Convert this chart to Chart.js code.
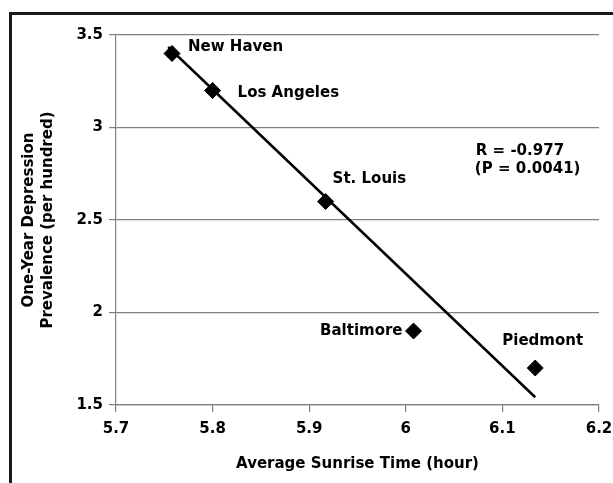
<!DOCTYPE html>
<html>
<head>
<meta charset="utf-8">
<script src="https://cdn.jsdelivr.net/npm/chart.js@4/dist/chart.umd.min.js"></script>
<style>
  html, body { margin: 0; padding: 0; background: #ffffff; }
  #wrap { width: 613px; height: 483px; }
</style>
</head>
<body>
<div id="wrap"><canvas id="c" width="613" height="483"></canvas></div>
<script>
// ---- data ----
const cities = ["New Haven", "Los Angeles", "St. Louis", "Baltimore", "Piedmont"];
const sunriseTime = [5.758, 5.80, 5.917, 6.008, 6.134];
const prevalence = [3.40, 3.20, 2.60, 1.90, 1.70];
const fitX = [5.754, 6.134];
const fitY = [3.435, 1.542];
const xTicks = [5.7, 5.8, 5.9, 6.0, 6.1, 6.2];
const yTicks = [1.5, 2, 2.5, 3, 3.5];
const statLines = ["R = -0.977", "(P = 0.0041)"];

const FONT = "'DejaVu Sans', 'Liberation Sans', Arial, sans-serif";

const points = cities.map((c, i) => ({ x: sunriseTime[i], y: prevalence[i] }));
const fitPoints = fitX.map((x, i) => ({ x: x, y: fitY[i] }));

// label offsets in pixels relative to each point (styling only)
const labelStyle = [
  { dx: 16, dy: -6, align: 'left' },
  { dx: 25, dy: 3, align: 'left' },
  { dx: 7, dy: -22, align: 'left' },
  { dx: -11, dy: 0, align: 'right' },
  { dx: -33, dy: -27, align: 'left' }
];

const decor = {
  id: 'decor',
  beforeDraw(chart) {
    const ctx = chart.ctx;
    ctx.save();
    ctx.fillStyle = '#ffffff';
    ctx.fillRect(0, 0, chart.width, chart.height);
    ctx.restore();
  },
  afterDraw(chart) {
    const ctx = chart.ctx;
    const xs = chart.scales.x, ys = chart.scales.y;
    ctx.save();
    // outer frame (cut off at right and bottom)
    ctx.strokeStyle = '#1a1a1a';
    ctx.lineWidth = 3;
    ctx.beginPath();
    ctx.moveTo(10.5, chart.height + 5);
    ctx.lineTo(10.5, 13.5);
    ctx.lineTo(chart.width + 5, 13.5);
    ctx.stroke();
    // point labels
    ctx.fillStyle = '#000000';
    ctx.font = "bold 15px " + FONT;
    ctx.textBaseline = 'middle';
    points.forEach((p, i) => {
      const px = xs.getPixelForValue(p.x);
      const py = ys.getPixelForValue(p.y);
      const s = labelStyle[i];
      ctx.textAlign = s.align;
      ctx.fillText(cities[i], px + s.dx, py + s.dy);
    });
    // statistics text
    ctx.textAlign = 'left';
    const sx = xs.getPixelForValue(6.0725);
    const sy = ys.getPixelForValue(2.87);
    ctx.fillText(statLines[0], sx, sy);
    ctx.fillText(statLines[1], sx - 1, sy + 17.5);
    ctx.restore();
  }
};

new Chart(document.getElementById('c'), {
  type: 'scatter',
  data: {
    datasets: [
      {
        label: 'Cities',
        data: points,
        pointStyle: 'rectRot',
        pointRadius: 8,
        pointHoverRadius: 8,
        backgroundColor: '#000000',
        borderColor: '#000000',
        borderWidth: 1,
        order: 1
      },
      {
        label: 'Fit',
        data: fitPoints,
        showLine: true,
        pointRadius: 0,
        borderColor: '#000000',
        borderWidth: 2.5,
        fill: false,
        order: 2
      }
    ]
  },
  options: {
    responsive: false,
    animation: false,
    events: [],
    layout: { padding: { left: 0, right: 14, top: 35, bottom: 0 } },
    plugins: { legend: { display: false }, tooltip: { enabled: false } },
    scales: {
      x: {
        type: 'linear',
        min: 5.7, max: 6.2,
        afterBuildTicks: (s) => { s.ticks = xTicks.map(v => ({ value: v })); },
        afterFit: (s) => { s.height = 78; s.paddingLeft = 0; s.paddingRight = 0; },
        ticks: {
          color: '#000000',
          font: { family: FONT, size: 15, weight: 'bold' },
          padding: 8,
          maxRotation: 0,
          autoSkip: false,
          callback: (v) => String(+v.toFixed(1))
        },
        grid: { drawOnChartArea: false, drawTicks: true, tickLength: 7, color: '#808080', lineWidth: 1.2 },
        border: { display: true, color: '#808080', width: 1.2 },
        title: {
          display: true,
          text: 'Average Sunrise Time (hour)',
          color: '#000000',
          font: { family: FONT, size: 15, weight: 'bold', lineHeight: 1.25 },
          padding: { top: 0, bottom: 10 }
        }
      },
      y: {
        type: 'linear',
        min: 1.5, max: 3.5,
        afterBuildTicks: (s) => { s.ticks = yTicks.map(v => ({ value: v })); },
        afterFit: (s) => { s.width = 116; },
        ticks: {
          color: '#000000',
          font: { family: FONT, size: 15, weight: 'bold' },
          padding: 6,
          autoSkip: false,
          callback: (v) => String(v)
        },
        grid: { drawOnChartArea: true, drawTicks: true, tickLength: 7, color: '#808080', lineWidth: 1.2 },
        border: { display: true, color: '#808080', width: 1.2 },
        title: {
          display: true,
          text: ['One-Year Depression', 'Prevalence (per hundred)'],
          color: '#000000',
          font: { family: FONT, size: 15, weight: 'bold', lineHeight: 1.25 },
          padding: { top: 20, bottom: 0 }
        }
      }
    }
  },
  plugins: [decor]
});
</script>
</body>
</html>
